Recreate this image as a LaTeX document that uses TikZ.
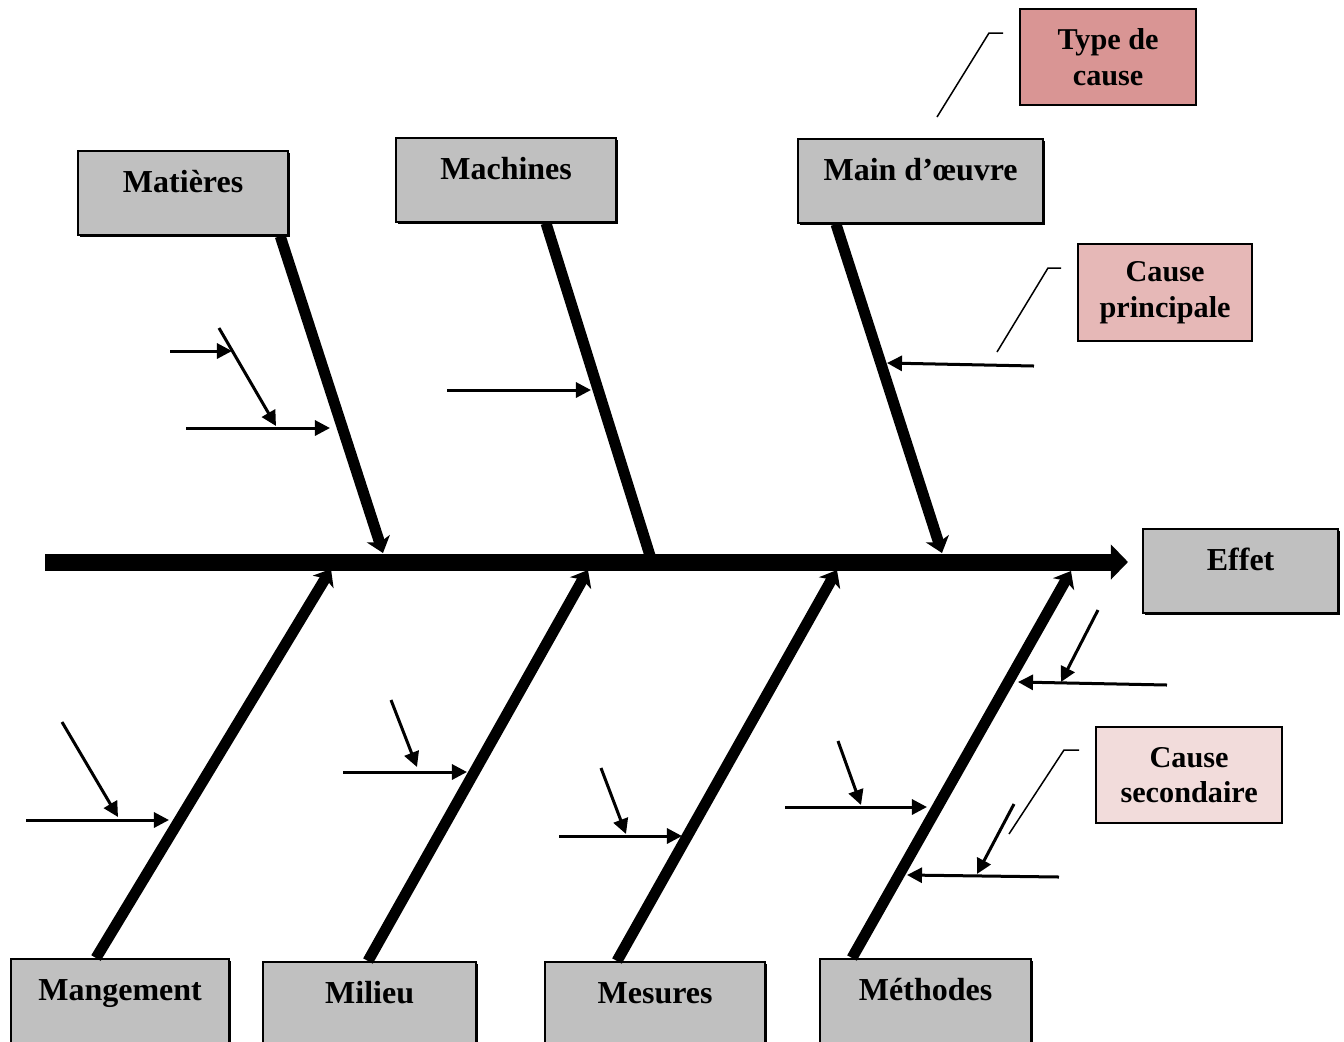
\documentclass[tikz,border=0pt]{standalone}
\usepackage{fontspec}
\setmainfont{Liberation Serif}
\usepackage{xcolor}
\usetikzlibrary{arrows.meta,positioning,calc,shadows}
\definecolor{famgrey}{HTML}{C0C0C0}
\definecolor{typepink}{HTML}{D99594}
\definecolor{mainpink}{HTML}{E6B8B7}
\definecolor{secpink}{HTML}{F2DCDB}

\begin{document}
\begin{tikzpicture}[
  x=0.01cm, y=-0.01cm,
  family/.style={draw, line width=0.6pt, fill=famgrey, anchor=north west, inner xsep=0pt, inner ysep=0pt,
    text height=0.41cm, text depth=0.43cm, font=\bfseries\fontsize{9.1}{10}\selectfont,
    drop shadow={shadow xshift=0.45pt, shadow yshift=-0.45pt, fill=black, opacity=1}},
  legend/.style={draw, line width=0.6pt, anchor=north west, align=center, inner sep=0pt,
    font=\bfseries\fontsize{8.6}{10.2}\selectfont,
    drop shadow={shadow xshift=0.3pt, shadow yshift=-0.3pt, fill=black, opacity=1}},
  spine/.style={line width=0.17cm, -{Triangle[length=0.17cm, width=0.34cm]}},
  bone/.style={line width=0.11cm, -{Stealth[length=0.15cm, width=0.24cm, inset=0.04cm]}},
  twig/.style={line width=0.03cm, -{Triangle[length=0.15cm, width=0.15cm]}},
  callout/.style={line width=0.015cm}
]
\useasboundingbox (0,0) rectangle (1344,1041);

\node[family, minimum width=2.10cm] (mat) at (77,150) {Matières};
\node[family, minimum width=2.20cm] (mach) at (395,137) {Machines};
\node[family, minimum width=2.45cm] (mo) at (797,138) {Main d’œuvre};
\node[family, minimum width=1.95cm] (effet) at (1142,528) {Effet};
\node[family, minimum width=2.18cm] (mgt) at (10,958) {Mangement};
\node[family, minimum width=2.13cm] (mil) at (262,961) {Milieu};
\node[family, minimum width=2.20cm] (mes) at (544,961) {Mesures};
\node[family, minimum width=2.11cm] (meth) at (819,958) {Méthodes};

\node[legend, fill=typepink, minimum width=1.76cm, minimum height=0.96cm] (type) at (1019,8) {Type de\\cause};
\node[legend, fill=mainpink, minimum width=1.74cm, minimum height=0.97cm] (princ) at (1077,243) {Cause\\principale};
\node[legend, fill=secpink, minimum width=1.86cm, minimum height=0.96cm] (sec) at (1095,726) {Cause\\secondaire};

\coordinate (tail) at (45,562);
\coordinate (head) at (1128,562);
\coordinate (jmat) at (383,553);
\coordinate (jmach) at (652,562);
\coordinate (jmo) at (942,553);
\coordinate (jmgt) at (331,569);
\coordinate (jmil) at (588,570);
\coordinate (jmes) at (837,570);
\coordinate (jmeth) at (1071,571);

\draw[spine] (tail) -- (head);

\draw[bone] ($(mat.south east)+(-9,0)$) -- (jmat);
\draw[bone, -] ($(mach.south west)+(151,0)$) -- (jmach);
\draw[bone] ($(mo.south west)+(39,0)$) -- (jmo);
\draw[bone] ($(mgt.north west)+(86,0)$) -- (jmgt);
\draw[bone] ($(mil.north west)+(106,0)$) -- (jmil);
\draw[bone] ($(mes.north west)+(73,0)$) -- (jmes);
\draw[bone] ($(meth.north west)+(33,0)$) -- (jmeth);

\coordinate (a1) at (170,351);  \coordinate (b1) at (232,351);
\coordinate (a2) at (219,328);  \coordinate (b2) at (276,426);
\coordinate (a3) at (186,428);  \coordinate (b3) at (330,428);
\coordinate (a4) at (447,390);  \coordinate (b4) at (591,390);
\coordinate (a5) at (1034,366); \coordinate (b5) at (887,363);
\coordinate (a6) at (62,722);   \coordinate (b6) at (118,817);
\coordinate (a7) at (26,820);   \coordinate (b7) at (169,820);
\coordinate (a8) at (391,700);  \coordinate (b8) at (417,767);
\coordinate (a9) at (343,772);  \coordinate (b9) at (467,772);
\coordinate (a10) at (601,768); \coordinate (b10) at (626,834);
\coordinate (a11) at (559,836); \coordinate (b11) at (682,836);
\coordinate (a12) at (838,741); \coordinate (b12) at (861,805);
\coordinate (a13) at (785,807); \coordinate (b13) at (927,807);
\coordinate (a14) at (1098,610); \coordinate (b14) at (1061,682);
\coordinate (a15) at (1167,685); \coordinate (b15) at (1018,682);
\coordinate (a16) at (1014,804); \coordinate (b16) at (977,874);
\coordinate (a17) at (1059,877); \coordinate (b17) at (907,875);

\draw[twig] (a1) -- (b1);
\draw[twig] (a2) -- (b2);
\draw[twig] (a3) -- (b3);
\draw[twig] (a4) -- (b4);
\draw[twig] (a5) -- (b5);
\draw[twig] (a6) -- (b6);
\draw[twig] (a7) -- (b7);
\draw[twig] (a8) -- (b8);
\draw[twig] (a9) -- (b9);
\draw[twig] (a10) -- (b10);
\draw[twig] (a11) -- (b11);
\draw[twig] (a12) -- (b12);
\draw[twig] (a13) -- (b13);
\draw[twig] (a14) -- (b14);
\draw[twig] (a15) -- (b15);
\draw[twig] (a16) -- (b16);
\draw[twig] (a17) -- (b17);

\coordinate (ct1) at (937,117);  \coordinate (ck1) at (989,33);  \coordinate (ce1) at (1003,33);
\coordinate (ct2) at (997,352);  \coordinate (ck2) at (1048,268); \coordinate (ce2) at (1061,268);
\coordinate (ct3) at (1009,834); \coordinate (ck3) at (1064,750); \coordinate (ce3) at (1079,750);

\draw[callout] (ct1) -- (ck1) -- (ce1);
\draw[callout] (ct2) -- (ck2) -- (ce2);
\draw[callout] (ct3) -- (ck3) -- (ce3);

\end{tikzpicture}
\end{document}
